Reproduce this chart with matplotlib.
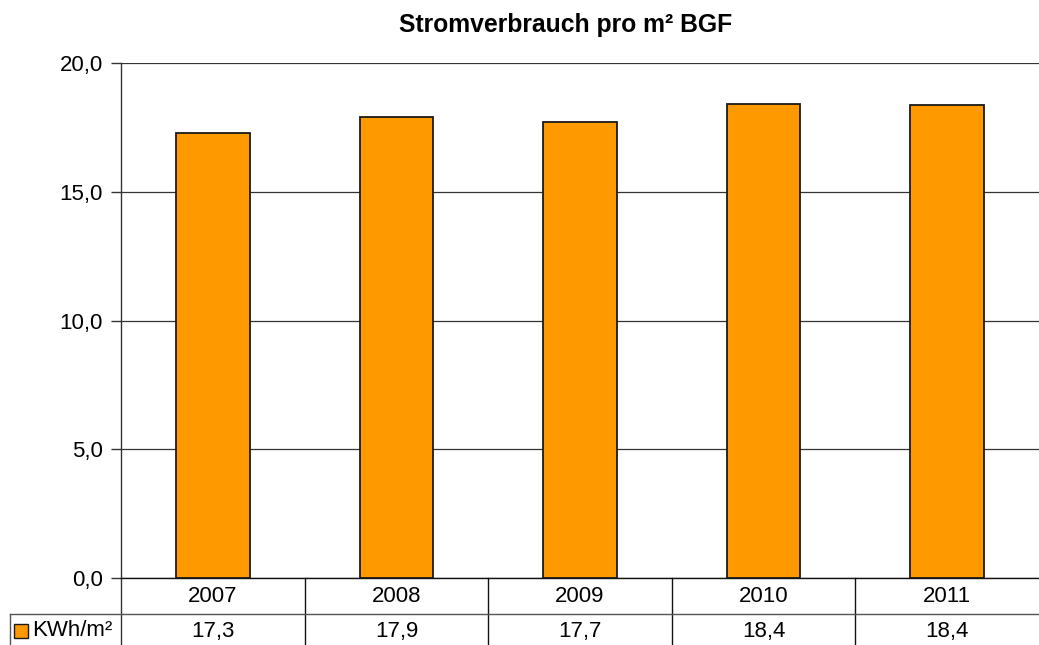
import matplotlib
matplotlib.use("Agg")
import matplotlib.pyplot as plt
from matplotlib.patches import Rectangle
from matplotlib.lines import Line2D

years = ["2007", "2008", "2009", "2010", "2011"]
kwh_per_m2 = [17.3, 17.9, 17.7, 18.42, 18.38]
series_label = "KWh/m²"
title = "Stromverbrauch pro m² BGF"
yticks = [0, 5, 10, 15, 20]

plt.rcParams['font.family'] = ['Liberation Sans', 'DejaVu Sans']

W, H = 1039, 645
fig = plt.figure(figsize=(W / 100, H / 100), dpi=100)
left, right, top, bottom = 121, 1039, 63, 578
ax = fig.add_axes([left / W, (H - bottom) / H, (right - left) / W, (bottom - top) / H])

FS = 16
x = list(range(len(years)))
ax.bar(x, kwh_per_m2, width=0.40, color="#FF9900", edgecolor="#1a1a1a", linewidth=1.3, zorder=3)
ax.set_xlim(-0.5, len(years) - 0.5)
ax.set_ylim(0, 20)
ax.set_yticks(yticks)
ax.set_yticklabels([f"{v:.1f}".replace(".", ",") for v in yticks], fontsize=FS)
ax.set_xticks([])
ax.yaxis.grid(True, color="#333333", linewidth=0.9, zorder=0)
ax.tick_params(axis="y", length=7, width=1, color="#333333", pad=6)
for s in ["top", "right"]:
    ax.spines[s].set_visible(False)
ax.spines["left"].set_color("#333333")
ax.spines["bottom"].set_color("#111111")
ax.spines["left"].set_linewidth(1.0)
ax.spines["bottom"].set_linewidth(1.0)

fig.text(566 / W, 1 - 25 / H, title, ha="center", va="center", fontsize=17.8, fontweight="bold")

# data table under the axis
ph = bottom - top
pw = right - left
def yax(py):
    return (bottom - py) / ph
xt = ax.get_xaxis_transform()
row1 = yax(596)
row2 = yax(631)
line_y = yax(614)
bot_y = yax(700)
for i, (yr, v) in enumerate(zip(years, kwh_per_m2)):
    ax.text(i, row1, yr, transform=xt, ha="center", va="center", fontsize=FS, clip_on=False)
    ax.text(i, row2, f"{v:.1f}".replace(".", ","), transform=xt, ha="center", va="center",
            fontsize=FS, clip_on=False)
for i in range(len(years) - 1):
    ax.add_line(Line2D([i + 0.5, i + 0.5], [0, bot_y], transform=xt, color="#111111",
                       linewidth=1.0, clip_on=False))
ax.add_line(Line2D([0, 0], [0, bot_y], transform=ax.transAxes, color="#333333",
                   linewidth=1.0, clip_on=False))
lx = (10 - left) / pw
ax.add_line(Line2D([lx, 1], [line_y, line_y], transform=ax.transAxes, color="#555555",
                   linewidth=1.0, clip_on=False))
ax.add_line(Line2D([lx, lx], [line_y, bot_y], transform=ax.transAxes, color="#555555",
                   linewidth=1.0, clip_on=False))
# legend key
sq = Rectangle(((14 - left) / pw, yax(638)), 14 / pw, 14 / ph, transform=ax.transAxes,
               facecolor="#FF9900", edgecolor="#1a1a1a", linewidth=1.0, clip_on=False)
ax.add_patch(sq)
ax.text((32 - left) / pw, row2, series_label, transform=ax.transAxes, ha="left", va="center",
        fontsize=FS, clip_on=False)

fig.savefig("out.png", dpi=100)
